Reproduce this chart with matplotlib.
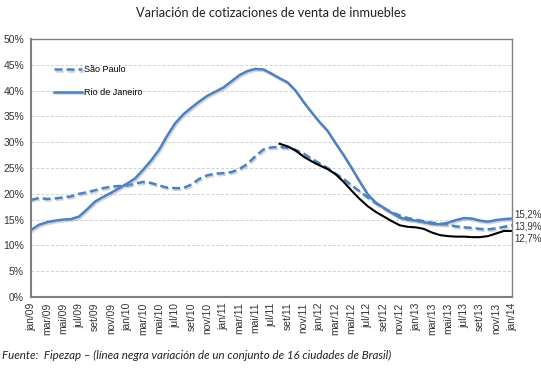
import matplotlib
matplotlib.use("Agg")
import matplotlib.pyplot as plt
import matplotlib.patheffects as pe
import numpy as np

title = "Variación de cotizaciones de venta de inmuebles"
footnote = "Fuente:  Fipezap – (línea negra variación de un conjunto de 16 ciudades de Brasil)"

month_names = ["jan", "fev", "mar", "abr", "mai", "jun", "jul", "ago", "set", "out", "nov", "dez"]
tick_labels = [f"{month_names[m % 12]}/{9 + m // 12:02d}" for m in range(0, 61, 2)]

sao_paulo = [18.8, 19.2, 19.0, 19.1, 19.3, 19.5, 20.0, 20.3, 20.7, 21.1,
             21.4, 21.5, 21.6, 22.0, 22.3, 22.1, 21.6, 21.2, 21.1, 21.1,
             21.8, 22.9, 23.6, 23.9, 24.0, 24.2, 24.8, 25.8, 27.3, 28.6,
             29.0, 29.1, 28.9, 28.5, 27.8, 26.8, 25.9, 25.0, 23.9, 22.9,
             21.6, 20.5, 19.3, 18.2, 17.2, 16.4, 15.8, 15.3, 15.0, 14.7,
             14.4, 14.2, 14.0, 13.7, 13.5, 13.4, 13.2, 13.1, 13.3, 13.6, 13.9]

rio = [13.0, 14.0, 14.5, 14.8, 15.0, 15.1, 15.6, 17.0, 18.5, 19.4,
       20.2, 21.1, 22.0, 23.0, 24.7, 26.5, 28.6, 31.3, 33.7, 35.4,
       36.7, 37.9, 39.0, 39.8, 40.6, 41.8, 43.0, 43.8, 44.2, 44.1,
       43.3, 42.4, 41.6, 40.0, 37.8, 35.8, 33.9, 32.2, 29.8, 27.5,
       25.0, 22.4, 19.9, 18.3, 17.3, 16.3, 15.4, 15.0, 14.8, 14.5,
       14.2, 14.1, 14.4, 14.9, 15.3, 15.2, 14.8, 14.6, 14.9, 15.1, 15.2]

brasil_start = 31
brasil = [29.7, 29.2, 28.4, 27.2, 26.3, 25.5, 24.8, 23.8, 22.3, 20.6,
          19.0, 17.6, 16.5, 15.6, 14.7, 13.9, 13.6, 13.5, 13.2, 12.5,
          12.0, 11.8, 11.7, 11.7, 11.6, 11.6, 11.8, 12.3, 12.8, 12.8, 12.7]

end_labels = ["15,2%", "13,9%", "12,7%"]

blue = "#4F81BD"
shadow = [pe.SimpleLineShadow(offset=(0.8, -1.2), shadow_color="#8fa3c0", alpha=0.45), pe.Normal()]

fig = plt.figure(figsize=(5.41, 3.71), dpi=100)
ax = fig.add_axes([31 / 541, 1 - 297 / 371, (512 - 31) / 541, (297 - 39) / 371])

x_all = np.arange(len(rio))
x_br = np.arange(brasil_start, brasil_start + len(brasil))

ax.plot(x_all, sao_paulo, color=blue, lw=1.8, dashes=(3.2, 1.6), label="São Paulo", path_effects=shadow)
ax.plot(x_all, rio, color=blue, lw=1.8, label="Rio de Janeiro", path_effects=shadow)
ax.plot(x_br, brasil, color="black", lw=1.5)

ax.set_xlim(0, 60)
ax.set_ylim(0, 50)
ax.set_yticks(np.arange(0, 51, 5))
ax.set_yticklabels([f"{v}%" for v in range(0, 51, 5)], fontsize=7.5, family="Liberation Sans", color="#333333")
ax.set_xticks(np.arange(0, 61, 2))
ax.set_xticklabels(tick_labels, rotation=90, fontsize=7.5, family="Liberation Sans", color="#333333")
ax.tick_params(axis="y", length=0, pad=5)
ax.tick_params(axis="x", length=0, pad=4)
ax.yaxis.grid(True, color="#d0d0d0", linestyle=(0, (3, 2)), lw=0.7)
ax.set_axisbelow(True)
for s in ax.spines.values():
    s.set_color("#808080")
    s.set_linewidth(1.0)
ax.spines["left"].set_linewidth(1.5)
ax.spines["bottom"].set_linewidth(1.5)

leg = ax.legend(loc="upper left", bbox_to_anchor=(0.03, 0.93), frameon=False,
                prop={"family": "Liberation Sans", "size": 6.5}, handlelength=3.2,
                labelspacing=1.5, handletextpad=0.2)

offsets = [(2, 3), (2, -1), (2, -5)]
for vals, lab, off in zip([rio, sao_paulo, brasil], end_labels, offsets):
    ax.annotate(lab, xy=(60, vals[-1]), xytext=off, textcoords="offset points",
                fontsize=7, family="Liberation Sans", color="#333333",
                va="center", ha="left", annotation_clip=False)

fig.text(0.5, 0.966, title, ha="center", va="center", fontsize=9.2, family="Lato", color="#222222")
fig.text(0.004, 1 - 355 / 371, footnote, ha="left", va="center", fontsize=8.3,
         family="Lato", style="italic", color="#222222")

fig.savefig("out.png", dpi=100)
